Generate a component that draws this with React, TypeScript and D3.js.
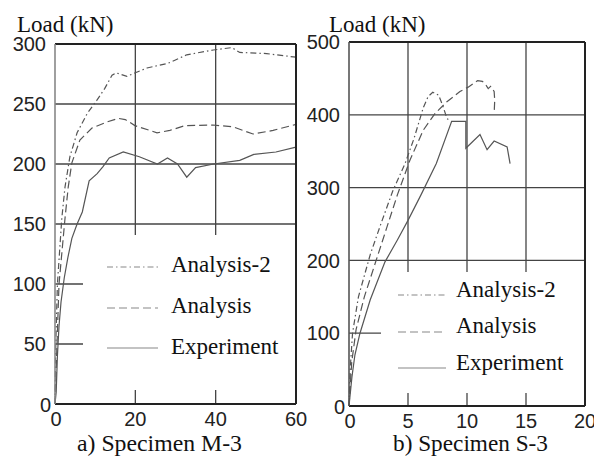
import React from 'react';
import * as d3 from 'd3';

type Pt = [number, number];

// Specimen M-3 (displacement mm, load kN)
const m3Analysis2: Pt[] = [
  [0, 0], [0.2, 50], [0.6, 100], [1.7, 155], [2.5, 181], [3.7, 206], [5.5, 226], [8, 242],
  [10.4, 253], [12.4, 263], [14.2, 274], [15.2, 276], [17.9, 273], [20, 276], [22.9, 280],
  [28.2, 284], [32.8, 291], [39.4, 295], [44, 297], [46, 293], [52.7, 292], [60, 289],
];
const m3Analysis: Pt[] = [
  [0, 0], [0.5, 50], [1, 100], [2.5, 155], [3.3, 181], [4.2, 201], [6.2, 220], [9.2, 230],
  [12.9, 235], [15.8, 238], [17.5, 237], [19.9, 232], [25.4, 226], [28.6, 228], [32.4, 232],
  [39.3, 232.5], [44.3, 231], [49.3, 225], [54.3, 228], [60, 233],
];
const m3Experiment: Pt[] = [
  [0, 0], [0.3, 10], [0.6, 40], [1, 65], [1.5, 85], [2.3, 105], [3.2, 122], [4.2, 138],
  [5.5, 150], [6.8, 160], [8.5, 186], [10.5, 192], [12, 198], [13.5, 205], [17, 210],
  [21, 206], [25.5, 200], [28, 205], [30.5, 200], [32.8, 189], [35, 197], [39.5, 200],
  [46, 203], [49.5, 208], [55, 210], [60, 214],
];

// Specimen S-3
const s3Analysis2: Pt[] = [
  [0, 0], [0.1, 50], [0.3, 100], [0.8, 150], [1.8, 208], [2.7, 250], [3.7, 295], [4.75, 333],
  [5.5, 367], [6.3, 410], [6.7, 425], [7.1, 431], [7.6, 427], [8.0, 410], [8.3, 395], [8.6, 391],
];
const s3Analysis: Pt[] = [
  [0, 0], [0.23, 60], [0.6, 105], [1.3, 150], [2.4, 205], [3.2, 245], [4.1, 290], [5.17, 338],
  [6.3, 379], [7.3, 402], [8.3, 418], [9.4, 432], [10.1, 438], [10.9, 447], [11.3, 446],
  [11.6, 441], [11.8, 436], [12.0, 439], [12.3, 432], [12.35, 420], [12.3, 402],
];
const s3Experiment: Pt[] = [
  [0, 0], [0.25, 40], [0.5, 70], [0.93, 100], [1.8, 146], [3.05, 198], [4.1, 228], [5, 255],
  [6.1, 290], [7.4, 333], [8.7, 391], [9.9, 391], [9.9, 354], [11.1, 373], [11.7, 352],
  [12.3, 364], [13.4, 356], [13.65, 333],
];

const legendLabels = ['Analysis-2', 'Analysis', 'Experiment'];
const dashes = ['6,3,1.5,3', '8,4', ''];
const m3XTicks = [0, 20, 40, 60];
const m3YTicks = [0, 50, 100, 150, 200, 250, 300];
const s3XTicks = [0, 5, 10, 15, 20];
const s3YTicks = [0, 100, 200, 300, 400, 500];

const fontCss = `
  text.sf { font-family: 'Liberation Serif', serif !important; }
  text.ss { font-family: 'Liberation Sans', sans-serif !important; }
`;

type PanelProps = {
  series: Pt[][];
  xMax: number;
  yMax: number;
  xTicks: number[];
  yTicks: number[];
  left: number;
  right: number;
  top: number;
  bottom: number;
  legendBox: [number, number, number, number];
  legendLine: [number, number];
  legendTextX: number;
  legendY: number[];
  legendBase: number[];
  titleX: number;
  caption: string;
  captionX: number;
  captionW: number;
  leftAxisColor: string;
};

const Panel = (p: PanelProps) => {
  const x = d3.scaleLinear().domain([0, p.xMax]).range([p.left, p.right]);
  const y = d3.scaleLinear().domain([0, p.yMax]).range([p.bottom, p.top]);
  const line = d3.line<Pt>().x((d) => x(d[0])).y((d) => y(d[1]));
  const [bx, by, bw, bh] = p.legendBox;

  return (
    <g>
      {/* grid */}
      {p.yTicks.slice(1, -1).map((t) => (
        <line key={'h' + t} x1={p.left} x2={p.right} y1={y(t)} y2={y(t)} stroke='#444' strokeWidth={1.3} />
      ))}
      {p.xTicks.slice(1, -1).map((t) => (
        <line key={'v' + t} x1={x(t)} x2={x(t)} y1={p.top} y2={p.bottom} stroke='#444' strokeWidth={1.3} />
      ))}
      {/* legend background hides grid */}
      <rect x={bx} y={by} width={bw} height={bh} fill='#fff' />

      {p.series.map((s, i) => (
        <path key={i} d={line(s) || ''} fill='none' stroke='#555' strokeWidth={1.2}
          strokeDasharray={dashes[i] || undefined} />
      ))}

      {/* frame */}
      <line x1={p.left} x2={p.right} y1={p.top} y2={p.top} stroke='#222' strokeWidth={2} />
      <line x1={p.right} x2={p.right} y1={p.top} y2={p.bottom} stroke='#222' strokeWidth={2} />
      <line x1={p.left} x2={p.right} y1={p.bottom} y2={p.bottom} stroke='#222' strokeWidth={2} />
      <line x1={p.left} x2={p.left} y1={p.top} y2={p.bottom} stroke={p.leftAxisColor} strokeWidth={1.6} />

      {/* tick labels */}
      {p.yTicks.map((t) => (
        <text key={'yl' + t} className='ss' x={p.left - (t === 0 ? 4 : 9)} y={y(t) + (t === 0 ? 1 : 0)} dy='0.36em'
          textAnchor='end' fontFamily='Liberation Sans' fontSize={20} fill='#222'>{t}</text>
      ))}
      {p.xTicks.map((t) => (
        <text key={'xl' + t} className='ss' x={x(t) + (t === 0 ? 1 : 0)} y={p.bottom + 22} textAnchor='middle'
          fontFamily='Liberation Sans' fontSize={20} fill='#222'>{t}</text>
      ))}

      {/* legend */}
      {legendLabels.map((l, i) => (
        <g key={l}>
          <line x1={p.legendLine[0]} x2={p.legendLine[1]} y1={p.legendY[i]} y2={p.legendY[i]}
            stroke='#888' strokeWidth={1.2} strokeDasharray={dashes[i] || undefined} />
          <text className='sf' x={p.legendTextX} y={p.legendBase[i]} fontFamily='Liberation Serif'
            fontSize={23} fill='#111'>{l}</text>
        </g>
      ))}

      <text className='sf' x={p.titleX} y={32} fontFamily='Liberation Serif' fontSize={23} fill='#111'>Load (kN)</text>
      <text className='sf' x={p.captionX} y={451} fontFamily='Liberation Serif' fontSize={23} fill='#111'
        textLength={p.captionW} lengthAdjust='spacingAndGlyphs'>{p.caption}</text>
    </g>
  );
};

const App = () => {
  return (
    <svg width={594} height={457} style={{ position: 'absolute', left: 0, top: 0 }}>
      <style>{fontCss}</style>
      <rect width={594} height={457} fill='#fff' />
      <Panel
        series={[m3Analysis2, m3Analysis, m3Experiment]}
        xMax={60} yMax={300} xTicks={m3XTicks} yTicks={m3YTicks}
        left={55} right={296} top={44} bottom={404}
        legendBox={[83, 235, 212, 155]} legendLine={[107, 158]} legendTextX={171}
        legendY={[267, 308, 348]} legendBase={[272, 313, 354]}
        titleX={17} caption='a) Specimen M-3' captionX={77} captionW={165} leftAxisColor='#888'
      />
      <Panel
        series={[s3Analysis2, s3Analysis, s3Experiment]}
        xMax={20} yMax={500} xTicks={s3XTicks} yTicks={s3YTicks}
        left={349} right={585} top={42} bottom={406}
        legendBox={[381, 272, 203, 121]} legendLine={[398, 446]} legendTextX={456}
        legendY={[295, 332, 368]} legendBase={[297, 333, 370]}
        titleX={329} caption='b) Specimen S-3' captionX={393} captionW={155} leftAxisColor='#555'
      />
    </svg>
  );
};

export default App;
